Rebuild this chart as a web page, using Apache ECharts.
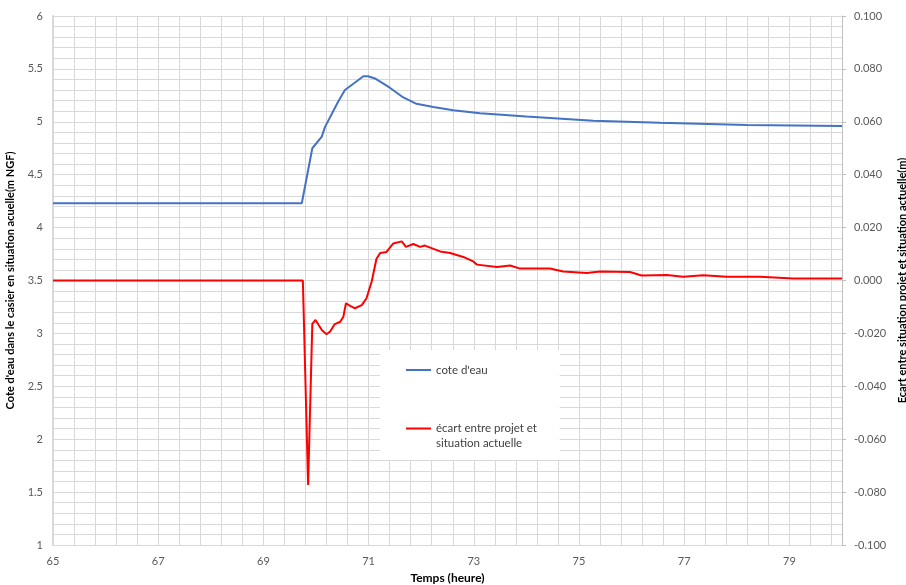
<!DOCTYPE html>
<html>
<head>
<meta charset="utf-8">
<script src="https://cdn.jsdelivr.net/npm/echarts@6/dist/echarts.min.js"></script>
<style>
  html, body { margin: 0; padding: 0; background: #fff; }
  #chart { width: 906px; height: 585px; }
</style>
</head>
<body>
<div id="chart"></div>
<script>
  // time (hours)
  var coteTemps = [65, 69.73, 69.75, 69.93, 70.11, 70.17, 70.42, 70.55, 70.71, 70.90, 70.99, 71.12, 71.41, 71.66, 71.91, 72.23, 72.61, 73.12, 74.0, 75.27, 76.54, 78.19, 80.0];
  // cote d'eau (m NGF), left axis
  var coteValues = [4.23, 4.23, 4.245, 4.75, 4.86, 4.95, 5.19, 5.30, 5.36, 5.43, 5.43, 5.41, 5.32, 5.23, 5.17, 5.14, 5.11, 5.08, 5.05, 5.01, 4.99, 4.97, 4.96];

  var ecartTemps = [65, 69.75, 69.85, 69.93, 69.99, 70.11, 70.20, 70.27, 70.35, 70.46, 70.52, 70.57, 70.65, 70.74, 70.87, 70.96, 71.06, 71.15, 71.22, 71.34, 71.47, 71.63, 71.71, 71.85, 71.98, 72.07, 72.36, 72.55, 72.80, 72.99, 73.06, 73.44, 73.69, 73.88, 74.45, 74.70, 75.15, 75.40, 75.97, 76.19, 76.67, 76.98, 77.36, 77.81, 78.44, 79.07, 80.0];
  // ecart projet - actuel (m), right axis
  var ecartValues = [0, 0, -0.0773, -0.0164, -0.0149, -0.0187, -0.0203, -0.0193, -0.0166, -0.0156, -0.0137, -0.0086, -0.0096, -0.0105, -0.0093, -0.0067, -0.0003, 0.0082, 0.0104, 0.0108, 0.0140, 0.0148, 0.0127, 0.0138, 0.0127, 0.0132, 0.0110, 0.0104, 0.0089, 0.0072, 0.0060, 0.0051, 0.0057, 0.0045, 0.0045, 0.0034, 0.0028, 0.0034, 0.0032, 0.0019, 0.0021, 0.0014, 0.0020, 0.0014, 0.0014, 0.0008, 0.0008];

  var nomCote = "cote d'eau";
  var nomEcart = 'écart entre projet et situation actuelle';

  var font = 'Lato';
  var gridColor = '#d9d9d9';
  var labelColor = '#595959';

  function pairs (t, v) {
    var out = [];
    for (var i = 0; i < t.length; i++) {
      out.push([t[i], v[i]]);
    }
    return out;
  }

  var myChart = echarts.init(document.getElementById('chart'));
  myChart.setOption({
    animation: false,
    grid: {
      left: 53,
      right: 64,
      top: 16,
      bottom: 40,
      outerBoundsMode: 'none'
    },
    legend: [
      {
        data: [nomCote],
        orient: 'vertical',
        left: 380,
        top: 350,
        padding: [14, 72, 84, 26],
        backgroundColor: '#fff',
        selectedMode: false,
        icon: 'rect',
        itemWidth: 25,
        itemHeight: 2,
        textStyle: { color: '#404040', fontSize: 11.5, fontFamily: font }
      },
      {
        data: [nomEcart],
        orient: 'vertical',
        left: 406,
        top: 406,
        padding: 0,
        selectedMode: false,
        icon: 'rect',
        itemWidth: 25,
        itemHeight: 2,
        formatter: function () {
          // empty first line keeps the icon level with the first text line
          return ' \nécart entre projet et\nsituation actuelle';
        },
        textStyle: { color: '#404040', fontSize: 11.5, fontFamily: font, lineHeight: 15 }
      }
    ],
    xAxis: [
      {
        type: 'value',
        min: 65,
        max: 80,
        interval: 1,
        name: 'Temps (heure)',
        nameLocation: 'middle',
        nameGap: 27,
        nameTextStyle: { color: '#000', fontWeight: 'bold', fontSize: 12, fontFamily: font },
        axisLine: { show: false },
        axisTick: { show: false },
        splitLine: { show: false },
        axisLabel: {
          color: labelColor,
          fontSize: 11,
          fontFamily: font,
          margin: 11,
          formatter: function (v) {
            return (Math.round(v) - 65) % 2 === 0 && v < 80 ? String(v) : '';
          }
        }
      },
      {
        // grid lines every 0.4 h, counted from 65
        type: 'value',
        min: 0,
        max: 15,
        interval: 0.4,
        show: true,
        axisLine: { show: false },
        axisTick: { show: false },
        axisLabel: { show: false },
        splitLine: { show: true, lineStyle: { color: gridColor, width: 1 } }
      }
    ],
    yAxis: [
      {
        type: 'value',
        min: 1,
        max: 6,
        interval: 0.5,
        name: "Cote d'eau dans le casier en situation acuelle(m NGF)",
        nameLocation: 'middle',
        nameGap: 37,
        nameTextStyle: { color: '#000', fontWeight: 'bold', fontSize: 11, fontFamily: font },
        axisLine: { show: true, lineStyle: { color: gridColor, width: 2 } },
        axisTick: { show: false },
        axisLabel: { color: labelColor, fontSize: 11, fontFamily: font, margin: 10 },
        splitLine: { show: true, lineStyle: { color: gridColor, width: 1 } },
        minorTick: { show: false, splitNumber: 5 },
        minorSplitLine: { show: true, lineStyle: { color: gridColor, width: 1 } }
      },
      {
        type: 'value',
        min: -0.1,
        max: 0.1,
        interval: 0.02,
        name: 'Ecart entre situation projet et situation actuelle(m)',
        nameLocation: 'middle',
        nameGap: 50,
        nameRotate: 90,
        nameTextStyle: { color: '#000', fontWeight: 'bold', fontSize: 11, fontFamily: font },
        axisLine: { show: true, lineStyle: { color: '#bfbfbf', width: 1 } },
        axisTick: { show: true, inside: false, length: 4, lineStyle: { color: '#bfbfbf' } },
        axisLabel: {
          color: labelColor,
          fontSize: 11,
          fontFamily: font,
          margin: 12,
          formatter: function (v) {
            return v.toFixed(3);
          }
        },
        splitLine: { show: false }
      }
    ],
    series: [
      {
        name: nomCote,
        type: 'line',
        xAxisIndex: 0,
        yAxisIndex: 0,
        symbol: 'none',
        color: '#4472C4',
        lineStyle: { width: 2, color: '#4472C4' },
        data: pairs(coteTemps, coteValues)
      },
      {
        name: nomEcart,
        type: 'line',
        xAxisIndex: 0,
        yAxisIndex: 1,
        symbol: 'none',
        color: '#FF0000',
        lineStyle: { width: 2, color: '#FF0000' },
        data: pairs(ecartTemps, ecartValues)
      }
    ]
  });
</script>
</body>
</html>
